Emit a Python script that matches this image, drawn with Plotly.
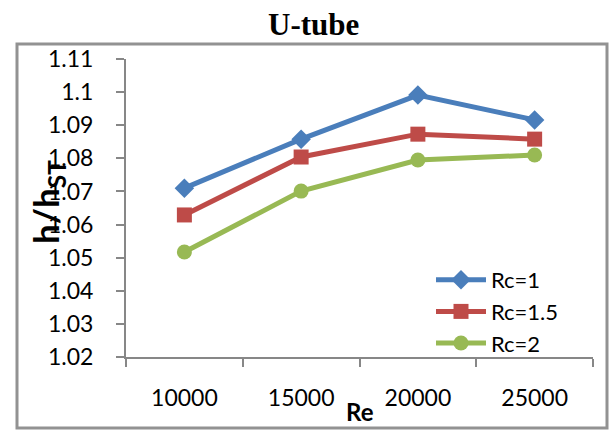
import plotly.graph_objects as go

categories = ["10000", "15000", "20000", "25000"]
rc1 = [1.0710, 1.0858, 1.0991, 1.0916]
rc15 = [1.0629, 1.0804, 1.0873, 1.0858]
rc2 = [1.0517, 1.0701, 1.0795, 1.0810]
series_names = ["Rc=1", "Rc=1.5", "Rc=2"]
y_ticks = [1.02, 1.03, 1.04, 1.05, 1.06, 1.07, 1.08, 1.09, 1.1, 1.11]
y_tick_text = ["1.02", "1.03", "1.04", "1.05", "1.06", "1.07", "1.08", "1.09", "1.1", "1.11"]

colors = ["#4A7EBB", "#BE4B48", "#98B954"]
symbols = ["diamond", "square", "circle"]
sizes = [15, 15, 15]

fig = go.Figure()
for name, vals, c, s, sz in zip(series_names, [rc1, rc15, rc2], colors, symbols, sizes):
    fig.add_trace(go.Scatter(
        x=categories, y=vals, name=name, mode="lines+markers",
        line=dict(color=c, width=5),
        marker=dict(color=c, symbol=s, size=sz, line=dict(width=0)),
    ))

L, R, T, B = 126, 17, 59, 73
W, H = 610, 430
pw, ph = W - L - R, H - T - B

def px_x(x):
    return (x - L) / pw

def px_y(y):
    return (H - B - y) / ph

fig.update_layout(
    width=W, height=H,
    margin=dict(l=L, r=R, t=T, b=B, pad=0),
    paper_bgcolor="white", plot_bgcolor="white",
    showlegend=True,
    legend=dict(x=px_x(431), y=px_y(259), xanchor="left", yanchor="top",
                font=dict(family="Lato", size=22, color="black"),
                bgcolor="rgba(0,0,0,0)", itemwidth=50, tracegroupgap=0),
    font=dict(family="Lato", size=23, color="black"),
    xaxis=dict(
        type="category", range=[-0.5, 3.5], tickson="boundaries",
        showgrid=False, zeroline=False,
        showline=True, linecolor="#878787", linewidth=2,
        ticks="outside", ticklen=8, tickwidth=2, tickcolor="#878787",
        tickfont=dict(family="Lato", size=23, color="black"),
        ticklabelstandoff=19,
    ),
    yaxis=dict(
        range=[1.02, 1.11], tickvals=y_ticks, ticktext=y_tick_text,
        showgrid=False, zeroline=False,
        showline=True, linecolor="#878787", linewidth=2,
        ticks="outside", ticklen=8, tickwidth=2, tickcolor="#878787",
        tickfont=dict(family="Lato", size=23, color="black"),
        ticklabelstandoff=18,
    ),
    shapes=[dict(type="rect", xref="paper", yref="paper",
                 x0=px_x(17), x1=px_x(607), y0=px_y(428), y1=px_y(44),
                 line=dict(color="#929292", width=3), layer="below")],
    annotations=[
        dict(text="<b>U-tube</b>", xref="paper", yref="paper",
             x=px_x(313), y=px_y(24), xanchor="center", yanchor="middle",
             showarrow=False, font=dict(family="Liberation Serif", size=31, color="black")),
        dict(text="<b>h/h<sub>ST</sub></b>", xref="paper", yref="paper",
             x=px_x(47), y=px_y(202), xanchor="center", yanchor="middle",
             textangle=-90, showarrow=False,
             font=dict(family="Lato", size=35, color="black")),
        dict(text="<b>Re</b>", xref="paper", yref="paper",
             x=px_x(360), y=px_y(411), xanchor="center", yanchor="middle",
             showarrow=False, font=dict(family="Lato", size=24, color="black")),
    ],
)

fig.write_html("out.html")
